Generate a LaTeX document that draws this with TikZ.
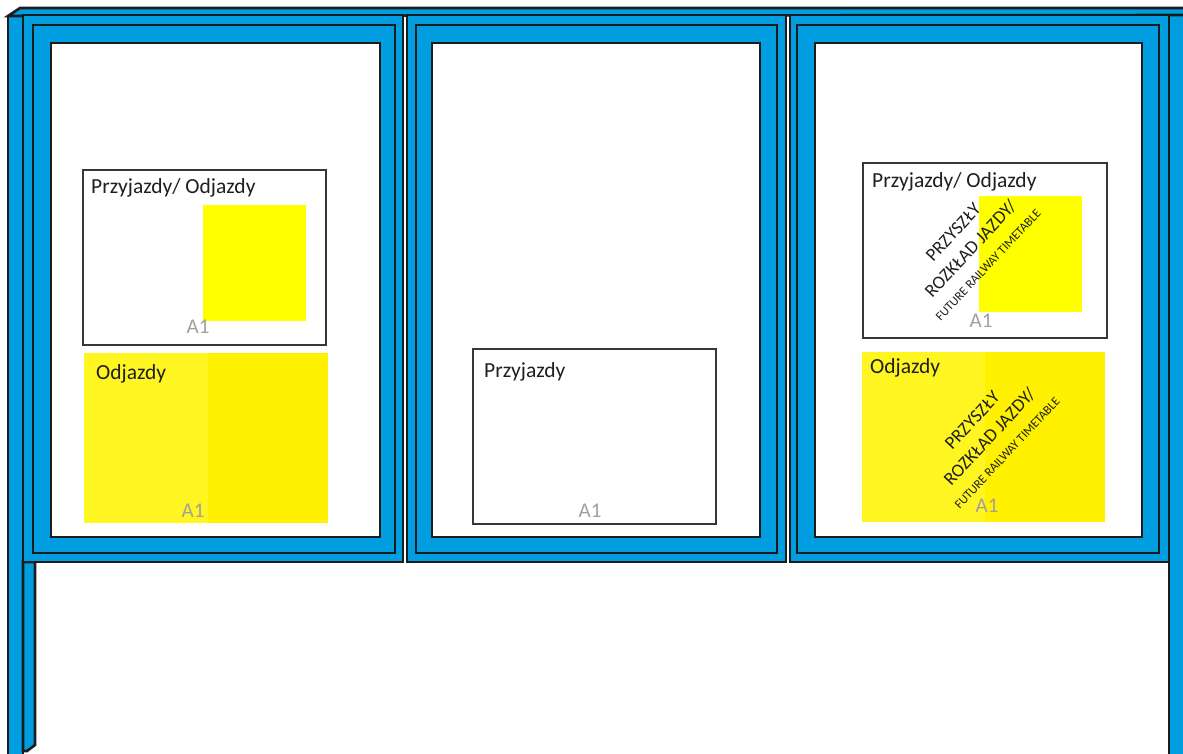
\documentclass[tikz,border=0pt]{standalone}
\usepackage{fontspec}
\setmainfont{Carlito}
\definecolor{caseblue}{RGB}{0,158,224}
\definecolor{caseedge}{RGB}{28,28,28}
\definecolor{boxedge}{RGB}{55,55,55}
\definecolor{posteryellow}{RGB}{255,255,0}
\definecolor{sheetyellow}{RGB}{255,241,0}
\definecolor{sheetlight}{RGB}{255,245,32}
\definecolor{sizegray}{RGB}{160,160,160}

\begin{document}
\begin{tikzpicture}[
	x=1pt, y=-1pt,
	% Styles for the display case and the posters
	casepart/.style={draw=caseedge, line width=2.6pt, fill=caseblue},
	casewindow/.style={draw=caseedge, line width=2.6pt, fill=white},
	posterbox/.style={draw=boxedge, line width=2.2pt, fill=white},
	titletext/.style={font=\fontsize{21.5}{24}\selectfont, text=black!88, anchor=base west, inner sep=0pt},
	sizetext/.style={font=\fontsize{21}{22}\selectfont, text=sizegray, inner sep=0pt},
	futuretext/.style={font=\fontsize{18.5}{24}\selectfont, text=black!88, align=center, rotate=47, inner sep=0pt}
	]
	\useasboundingbox (0,0) rectangle (1183,753);
	
	% ==========================================
	% 1. CASE BODY (posts and top)
	% ==========================================
	\draw[casepart] (8,16) rectangle (23,762);
	\draw[casepart] (1169,15) rectangle (1192,762);
	\draw[casepart] (8,16) -- (20,8) -- (1192,8) -- (1192,15) -- cycle;
	\draw[casepart] (23,562) -- (35,562) -- (35,745) -- (27,751) -- (23,751) -- cycle;
	
	% ==========================================
	% 2. THREE GLASS PANELS
	% ==========================================
	% left panel
	\draw[casepart] (23,15) rectangle (403,562);
	\draw[casepart] (33,25) rectangle (395,553);
	\draw[casewindow] (51,43) rectangle (380,537);
	% middle panel
	\draw[casepart] (407,15) rectangle (786,562);
	\draw[casepart] (416,25) rectangle (777,553);
	\draw[casewindow] (432,43) rectangle (760,537);
	% right panel
	\draw[casepart] (790,15) rectangle (1169,562);
	\draw[casepart] (797,25) rectangle (1159,553);
	\draw[casewindow] (815,43) rectangle (1142,537);
	
	% ==========================================
	% 3. LEFT PANEL POSTERS
	% ==========================================
	\draw[posterbox] (83,170) rectangle (326,345);
	\fill[posteryellow] (203,205) rectangle (306,321);
	\node[titletext] (leftboth) at (91,193) {Przyjazdy/ Odjazdy};
	\node[sizetext] (leftbothsize) at (198,327) {A1};
	
	\fill[sheetlight] (84,353) rectangle (208,523);
	\fill[sheetyellow] (208,353) rectangle (328,523);
	\node[titletext] (leftdep) at (96,379) {Odjazdy};
	\node[sizetext] (leftdepsize) at (193,511) {A1};
	
	% ==========================================
	% 4. MIDDLE PANEL POSTER
	% ==========================================
	\draw[posterbox] (473,349) rectangle (716,524);
	\node[titletext] (midarr) at (484,377) {Przyjazdy};
	\node[sizetext] (midarrsize) at (590,511) {A1};
	
	% ==========================================
	% 5. RIGHT PANEL POSTERS
	% ==========================================
	\draw[posterbox] (863,163) rectangle (1107,338);
	\fill[posteryellow] (979,196) rectangle (1082,312);
	\node[titletext] (rightboth) at (872,187) {Przyjazdy/ Odjazdy};
	\node[sizetext] (rightbothsize) at (981,321) {A1};
	\node[futuretext] (rightbothfuture) at (970,248) {PRZYSZŁY\\ROZKŁAD JAZDY/\\[-2pt]{\fontsize{12.5}{14}\selectfont FUTURE RAILWAY TIMETABLE}};
	
	\fill[sheetlight] (862,352) rectangle (985,522);
	\fill[sheetyellow] (985,352) rectangle (1105,522);
	\node[titletext] (rightdep) at (870,373) {Odjazdy};
	\node[sizetext] (rightdepsize) at (987,506) {A1};
	\node[futuretext] (rightdepfuture) at (989,436) {PRZYSZŁY\\ROZKŁAD JAZDY/\\[-2pt]{\fontsize{12.5}{14}\selectfont FUTURE RAILWAY TIMETABLE}};
	
\end{tikzpicture}
\end{document}
